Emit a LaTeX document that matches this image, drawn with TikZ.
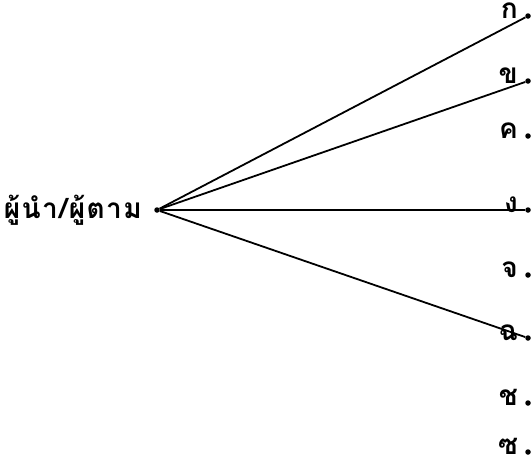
\documentclass[tikz,border=0pt]{standalone}
\usepackage{fontspec}
\newfontfamily\thaifont[Script=Thai,LetterSpace=5]{Loma}
\usetikzlibrary{positioning}
\begin{document}
\begin{tikzpicture}[
  x=1pt, y=-1pt,
  lbl/.style={font=\thaifont\bfseries\fontsize{28}{32}\selectfont, inner sep=0pt},
  tip/.style={circle, fill, inner sep=0pt, minimum size=5.5pt},
  ray/.style={line width=1.8pt},
]
\useasboundingbox (0,0) rectangle (532,475);

% Leader / follower
\node[tip] (hub) at (157,210) {};
\node[lbl, anchor=base east] (leader) at (142,218) {ผู้นำ/ผู้ตาม};

% Choices
\foreach \n/\t/\y in {a/ก/16, b/ข/81, c/ค/136, d/ง/210, e/จ/275, f/ฉ/338, g/ช/403, h/ซ/452} {
  \node[tip] (\n) at (528,\y) {};
  \node[lbl, anchor=base east, xshift=-7pt, yshift=-2.5pt] (\n-txt) at (\n.west) {\t};
}

% Rays
\draw[ray] (hub) -- (a);
\draw[ray] (hub) -- (b);
\draw[ray] (hub) -- (d);
\draw[ray] (hub) -- (f);

\end{tikzpicture}
\end{document}
